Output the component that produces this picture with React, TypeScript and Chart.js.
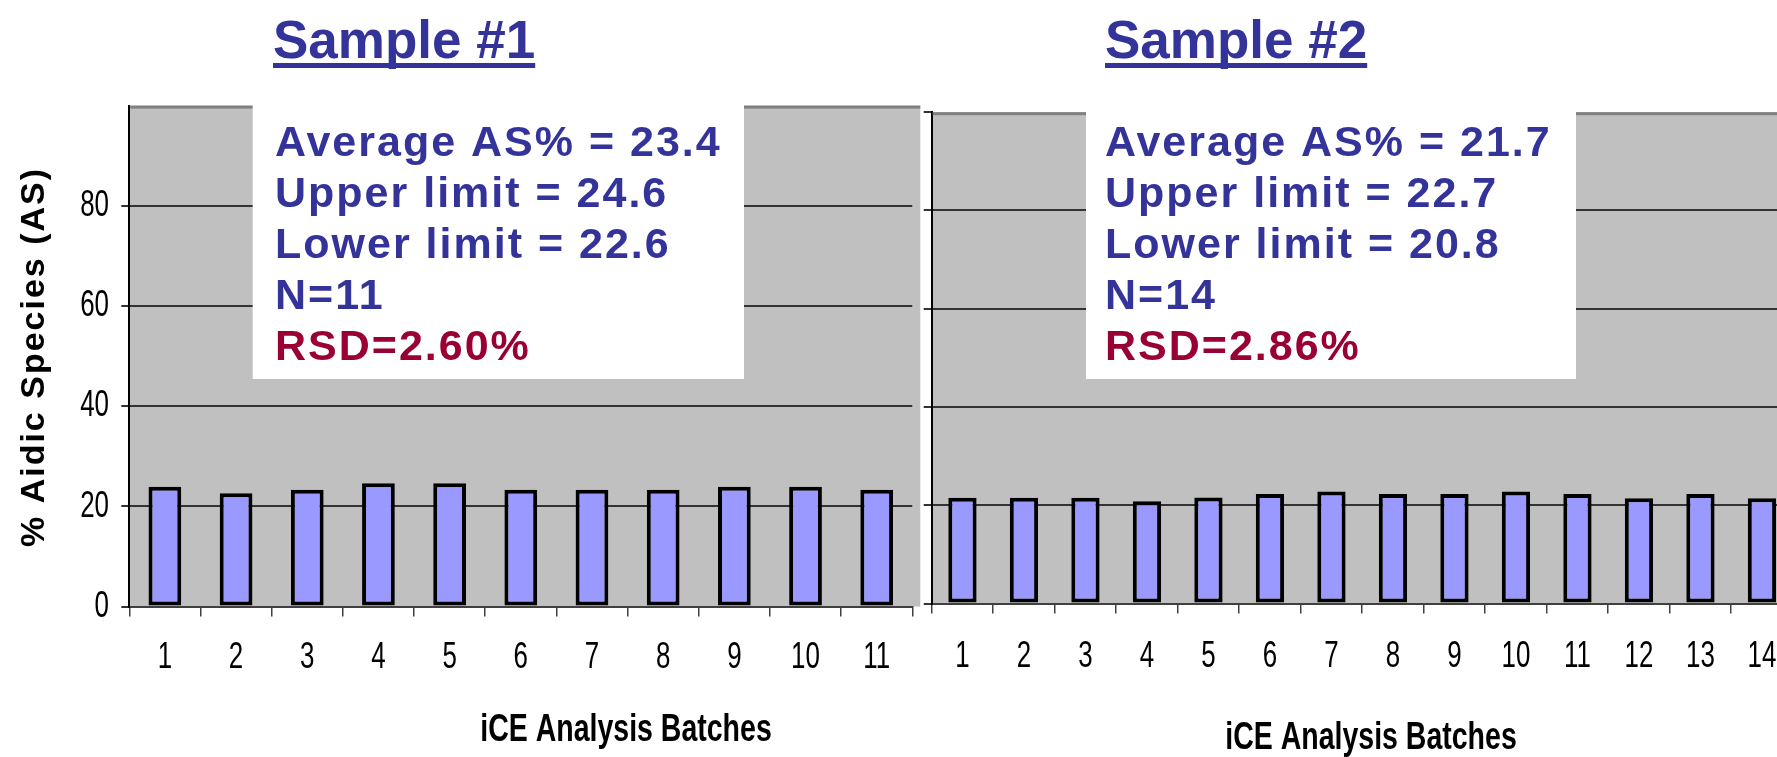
import React, { useEffect, useRef } from 'react';
import { Chart, registerables } from 'chart.js';

Chart.register(...registerables);

// ---------- data ----------
const batches1 = ['1', '2', '3', '4', '5', '6', '7', '8', '9', '10', '11'];
const sample1Values = [23.9, 22.6, 23.3, 24.6, 24.6, 23.3, 23.3, 23.3, 23.9, 23.9, 23.3];
const batches2 = ['1', '2', '3', '4', '5', '6', '7', '8', '9', '10', '11', '12', '13', '14'];
const sample2Values = [21.5, 21.5, 21.5, 20.8, 21.6, 22.3, 22.8, 22.3, 22.3, 22.8, 22.3, 21.4, 22.3, 21.4];
const yMin = 0;
const yMax = 100;
const yStep = 20;
const yTickLabels = ['0', '20', '40', '60', '80'];
const sample1Title = 'Sample #1';
const sample2Title = 'Sample #2';
const sample1Stats = ['Average AS% = 23.4', 'Upper limit = 24.6', 'Lower limit = 22.6', 'N=11'];
const sample1Rsd = 'RSD=2.60%';
const sample2Stats = ['Average AS% = 21.7', 'Upper limit = 22.7', 'Lower limit = 20.8', 'N=14'];
const sample2Rsd = 'RSD=2.86%';
const yAxisTitle = '% Aidic Species (AS)';
const xAxisTitle = 'iCE Analysis Batches';

// ---------- styles ----------
const BLUE = '#333399';
const RED = '#990033';
const GRAY = '#C0C0C0';
const BAR = '#9999FF';
const SANS = '"Liberation Sans", Arial, sans-serif';

type Decor = {
  grayExtend: number;
  box: [number, number, number, number];
  textX: number;
  lines: string[];
  rsd: string;
  title: string;
  titleX: number;
  xTitleX: number;
  xTitleY: number;
  xLabelY: number;
  yTitle?: boolean;
  yLabels?: boolean;
};

function drawNarrow(ctx: CanvasRenderingContext2D, text: string, x: number, y: number, align: CanvasTextAlign, sx: number) {
  ctx.save();
  ctx.translate(x, y);
  ctx.scale(sx, 1);
  ctx.textAlign = align;
  ctx.fillText(text, 0, 0);
  ctx.restore();
}

function decorPlugin(d: Decor) {
  return {
    id: 'decor',
    beforeDraw(chart: any) {
      const { ctx, chartArea: a } = chart;
      ctx.save();
      ctx.fillStyle = GRAY;
      ctx.fillRect(a.left, a.top, a.right + d.grayExtend - a.left, a.bottom - a.top);
      ctx.restore();
    },
    beforeDatasetsDraw(chart: any) {
      const { ctx, chartArea: a } = chart;
      ctx.save();
      ctx.fillStyle = '#808080';
      ctx.fillRect(a.left + 1, a.top, a.right + d.grayExtend - a.left - 1, 3);
      ctx.restore();
    },
    afterDraw(chart: any) {
      const { ctx } = chart;
      const xs = chart.scales.x;
      const ys = chart.scales.y;
      ctx.save();

      // tick labels (condensed, like Arial Narrow)
      ctx.fillStyle = '#000';
      ctx.font = `37px ${SANS}`;
      ctx.textBaseline = 'middle';
      chart.data.labels.forEach((lab: string, i: number) => {
        drawNarrow(ctx, lab, xs.getPixelForTick(i), d.xLabelY, 'center', 0.7);
      });
      if (d.yLabels) {
        yTickLabels.forEach((lab) => {
          drawNarrow(ctx, lab, 109, ys.getPixelForValue(Number(lab)), 'right', 0.7);
        });
      }

      // white stats box
      ctx.fillStyle = '#FFFFFF';
      const [bx, by, bw, bh] = d.box;
      ctx.fillRect(bx, by, bw, bh);
      ctx.textAlign = 'left';
      ctx.textBaseline = 'alphabetic';
      ctx.font = `bold 43px ${SANS}`;
      (ctx as any).letterSpacing = '2px';
      const baselines = [156, 207, 258, 309, 360];
      d.lines.forEach((t, i) => {
        ctx.fillStyle = BLUE;
        ctx.fillText(t, d.textX, baselines[i]);
      });
      ctx.fillStyle = RED;
      ctx.fillText(d.rsd, d.textX, baselines[4]);
      (ctx as any).letterSpacing = '0px';

      // title with underline
      ctx.font = `bold 53px ${SANS}`;
      ctx.fillStyle = BLUE;
      ctx.fillText(d.title, d.titleX, 58);
      const w = ctx.measureText(d.title).width;
      ctx.fillRect(d.titleX, 63, w, 5);

      // x axis title (condensed bold)
      ctx.font = `bold 38px ${SANS}`;
      ctx.fillStyle = '#000';
      ctx.textBaseline = 'middle';
      drawNarrow(ctx, xAxisTitle, d.xTitleX, d.xTitleY, 'center', 0.75);

      if (d.yTitle) {
        ctx.translate(35, 357);
        ctx.rotate(-Math.PI / 2);
        ctx.textAlign = 'center';
        ctx.font = `bold 34px ${SANS}`;
        (ctx as any).letterSpacing = '2px';
        ctx.fillText(yAxisTitle, 0, 0);
      }
      ctx.restore();
    },
  };
}

function makeConfig(
  labels: string[],
  values: number[],
  opts: {
    top: number;
    bottom: number;
    yWidth: number;
    rightPad: number;
    height: number;
    decor: Decor;
  }
): any {
  return {
    type: 'bar',
    data: {
      labels,
      datasets: [
        {
          data: values,
          backgroundColor: BAR,
          borderColor: '#000000',
          borderWidth: 4,
          borderSkipped: false,
          barPercentage: 0.46,
          categoryPercentage: 1,
        },
      ],
    },
    options: {
      animation: false,
      responsive: false,
      layout: { padding: { top: opts.top, right: opts.rightPad, left: 0, bottom: 0 } },
      plugins: {
        legend: { display: false },
        tooltip: { enabled: false },
        title: { display: false },
      },
      scales: {
        x: {
          type: 'category',
          offset: true,
          grid: {
            offset: true,
            drawOnChartArea: false,
            drawTicks: true,
            tickLength: 10,
            color: '#404040',
            lineWidth: 1.5,
          },
          border: { display: true, color: '#404040', width: 2 },
          ticks: { display: false, autoSkip: false },
          afterFit: (s: any) => {
            s.height = opts.height - opts.bottom;
          },
        },
        y: {
          min: yMin,
          max: yMax,
          ticks: { stepSize: yStep, display: false },
          grid: {
            color: (c: any) => (c.tick && c.tick.value === yMax ? 'rgba(0,0,0,0)' : '#333333'),
            tickColor: (c: any) =>
              c.tick && c.tick.value === yMax && opts.decor.yLabels ? 'rgba(0,0,0,0)' : '#333333',
            lineWidth: 2,
            tickLength: 8,
          },
          border: { display: true, color: '#000', width: 2 },
          afterFit: (s: any) => {
            s.width = opts.yWidth;
          },
        },
      },
    },
    plugins: [decorPlugin(opts.decor)],
  };
}

const LEFT_W = 925;
const RIGHT_X = 921;
const RIGHT_W = 880;
const H = 757;

export default function App() {
  const leftRef = useRef<HTMLCanvasElement>(null);
  const rightRef = useRef<HTMLCanvasElement>(null);

  useEffect(() => {
    const c1 = new Chart(
      leftRef.current as HTMLCanvasElement,
      makeConfig(batches1, sample1Values, {
        top: 105.6,
        bottom: 606.6,
        yWidth: 129.3,
        rightPad: LEFT_W - 912.3,
        height: H,
        decor: {
          grayExtend: 8,
          box: [252.7, 95, 744 - 252.7, 379 - 95],
          textX: 275,
          lines: sample1Stats,
          rsd: sample1Rsd,
          title: sample1Title,
          titleX: 273,
          xTitleX: 626,
          xTitleY: 731,
          xLabelY: 658,
          yTitle: true,
          yLabels: true,
        },
      })
    );
    const c2 = new Chart(
      rightRef.current as HTMLCanvasElement,
      makeConfig(batches2, sample2Values, {
        top: 112.2,
        bottom: 603.5,
        yWidth: 931.7 - RIGHT_X,
        rightPad: RIGHT_W - (931.7 + 14 * 61.5 - RIGHT_X),
        height: H,
        decor: {
          grayExtend: 0,
          box: [1086 - RIGHT_X, 95, 1576 - 1086, 379 - 95],
          textX: 1105 - RIGHT_X,
          lines: sample2Stats,
          rsd: sample2Rsd,
          title: sample2Title,
          titleX: 1105 - RIGHT_X,
          xTitleX: 1371 - RIGHT_X,
          xTitleY: 739,
          xLabelY: 657,
        },
      })
    );
    return () => {
      c1.destroy();
      c2.destroy();
    };
  }, []);

  return (
    <div
      style={{
        position: 'fixed',
        left: 0,
        top: 0,
        width: 1777,
        height: H,
        overflow: 'hidden',
        background: '#fff',
      }}
    >
      <canvas
        ref={leftRef}
        width={LEFT_W}
        height={H}
        style={{ position: 'absolute', left: 0, top: 0, width: LEFT_W, height: H }}
      />
      <canvas
        ref={rightRef}
        width={RIGHT_W}
        height={H}
        style={{ position: 'absolute', left: RIGHT_X, top: 0, width: RIGHT_W, height: H }}
      />
    </div>
  );
}
